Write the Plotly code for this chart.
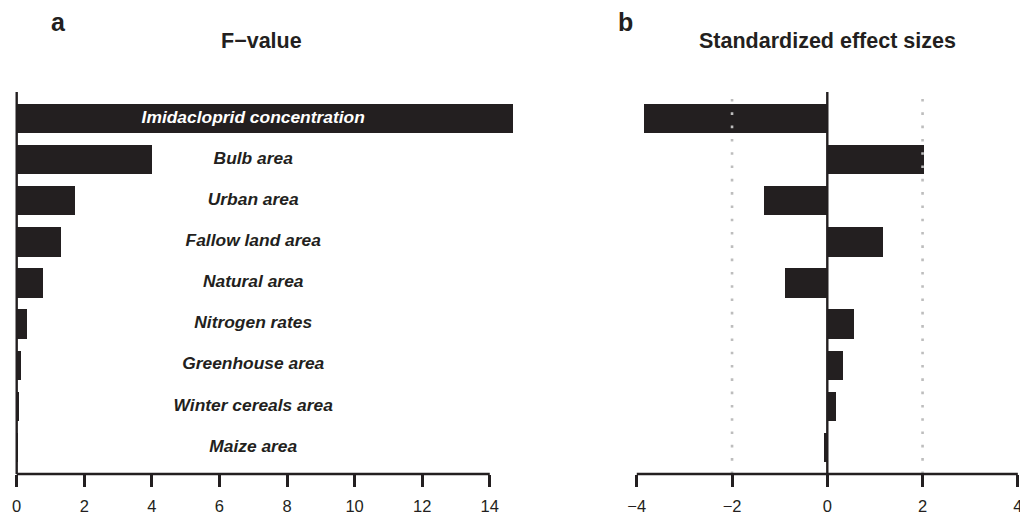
import plotly.graph_objects as go

# Predictors, top to bottom
categories = [
    "Imidacloprid concentration",
    "Bulb area",
    "Urban area",
    "Fallow land area",
    "Natural area",
    "Nitrogen rates",
    "Greenhouse area",
    "Winter cereals area",
    "Maize area",
]
f_values = [14.68, 4.00, 1.72, 1.31, 0.79, 0.31, 0.14, 0.07, 0.04]
effect_sizes = [-3.85, 2.03, -1.32, 1.16, -0.89, 0.55, 0.34, 0.18, -0.07]

f_ticks = [0, 2, 4, 6, 8, 10, 12, 14]
effect_ticks = [-4, -2, 0, 2, 4]
effect_refs = [-2, 2]
label_x = 7

INK = "#231f20"
FONT = "Liberation Sans, Arial, Helvetica, sans-serif"
W, H = 1020, 515

ypos = list(range(len(categories)))
bar_width = 0.71

fig = go.Figure()

# Panel a: F-values
fig.add_trace(go.Bar(
    x=f_values, y=ypos, orientation="h", width=bar_width,
    marker=dict(color=INK, line=dict(width=0)),
    xaxis="x", yaxis="y", showlegend=False, hoverinfo="skip",
))
label_colors = ["white"] + [INK] * (len(categories) - 1)
fig.add_trace(go.Scatter(
    x=[label_x] * len(categories), y=ypos, mode="text",
    text=[f"<b><i>{c}</i></b>" for c in categories],
    textposition="middle center",
    textfont=dict(family=FONT, size=17.4, color=label_colors),
    xaxis="x", yaxis="y", showlegend=False, hoverinfo="skip",
))

# Panel b: standardized effect sizes
fig.add_trace(go.Bar(
    x=effect_sizes, y=ypos, orientation="h", width=bar_width,
    marker=dict(color=INK, line=dict(width=0)),
    xaxis="x2", yaxis="y", showlegend=False, hoverinfo="skip",
))

plot_top, plot_bottom = 92, 474
y_domain = [(H - plot_bottom) / H, (H - plot_top) / H]

axis_common = dict(
    showgrid=False, zeroline=False, showline=False,
    ticks="outside", ticklen=12, tickwidth=2.6, tickcolor=INK,
    tickfont=dict(family=FONT, size=16.5, color=INK),
    ticklabelstandoff=5, ticklabeloverflow="allow",
    automargin=False, fixedrange=True,
)

fig.update_layout(
    width=W, height=H,
    margin=dict(l=0, r=0, t=0, b=0, autoexpand=False),
    paper_bgcolor="white", plot_bgcolor="white",
    bargap=0,
    xaxis=dict(domain=[0, 530 / W], range=[-16.7 / 33.79, (530 - 16.7) / 33.79],
               tickvals=f_ticks, anchor="y", **axis_common),
    xaxis2=dict(domain=[560 / W, 1.0],
                range=[(560 - 827.3) / 47.63, (1020 - 827.3) / 47.63],
                tickvals=effect_ticks, anchor="y", **axis_common),
    yaxis=dict(domain=y_domain, range=[len(categories) - 0.35, -0.65],
               showgrid=False, zeroline=False, showline=False,
               showticklabels=False, ticks="", automargin=False, fixedrange=True),
)

shapes = []
# dotted reference lines at +/-2
for v in effect_refs:
    shapes.append(dict(type="line", xref="x2", yref="y domain",
                       x0=v, x1=v, y0=0, y1=1, layer="above",
                       line=dict(color="#bdbdbd", width=2.6, dash="2.6px,10.7px")))
# vertical zero lines
for xr in ["x", "x2"]:
    shapes.append(dict(type="line", xref=xr, yref="y domain",
                       x0=0, x1=0, y0=0, y1=1, layer="above",
                       line=dict(color=INK, width=2.4)))
# bottom axis lines spanning the tick range
shapes.append(dict(type="line", xref="x", yref="y domain",
                   x0=f_ticks[0], x1=f_ticks[-1], y0=0, y1=0, layer="above",
                   line=dict(color=INK, width=2.4)))
shapes.append(dict(type="line", xref="x2", yref="y domain",
                   x0=effect_ticks[0], x1=effect_ticks[-1], y0=0, y1=0, layer="above",
                   line=dict(color=INK, width=2.4)))
fig.update_layout(shapes=shapes)

annotations = [
    dict(text="<b>a</b>", x=58 / W, y=1 - 22 / H, font=dict(family=FONT, size=25, color=INK)),
    dict(text="<b>b</b>", x=625 / W, y=1 - 22 / H, font=dict(family=FONT, size=25, color=INK)),
    dict(text="<b>F\u2212value</b>", x=261 / W, y=1 - 41 / H, font=dict(family=FONT, size=21.5, color=INK)),
    dict(text="<b>Standardized effect sizes</b>", x=827 / W, y=1 - 41 / H,
         font=dict(family=FONT, size=21.5, color=INK)),
]
for a in annotations:
    a.update(xref="paper", yref="paper", xanchor="center", yanchor="middle", showarrow=False)
fig.update_layout(annotations=annotations)

fig.write_html("out.html", config={"displayModeBar": False})
